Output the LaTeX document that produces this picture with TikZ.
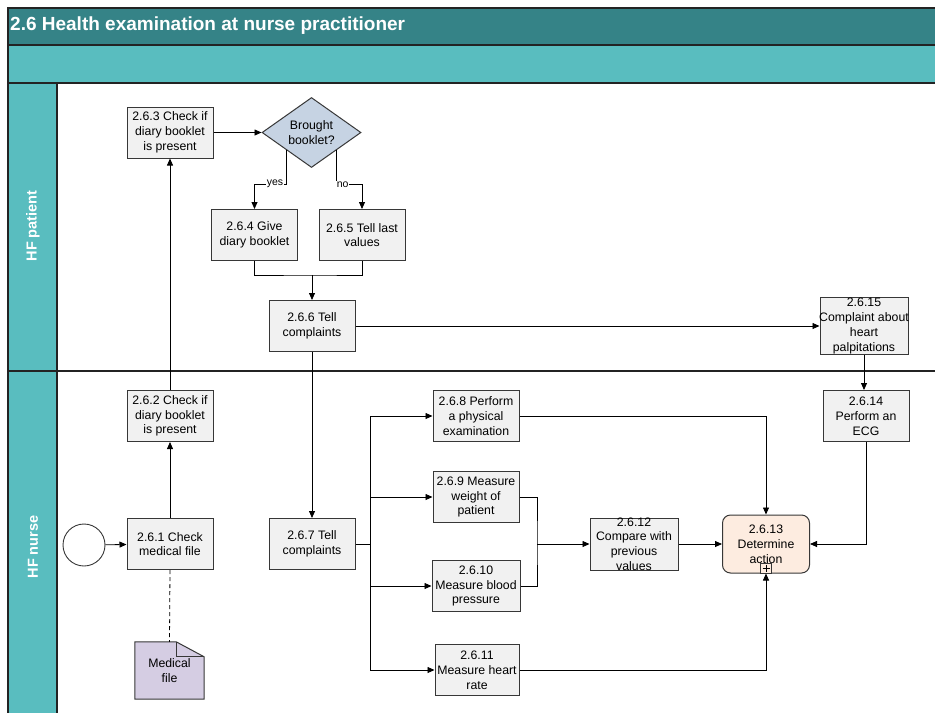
\documentclass[tikz,border=0pt]{standalone}
\usepackage{fontspec}
\setmainfont{Liberation Sans}
\usetikzlibrary{arrows.meta,shapes.geometric,backgrounds,calc}

\definecolor{titleteal}{RGB}{53,131,135}
\definecolor{laneteal}{RGB}{89,189,191}
\definecolor{taskfill}{RGB}{241,241,241}
\definecolor{gatefill}{RGB}{198,211,227}
\definecolor{subfill}{RGB}{253,236,224}
\definecolor{docfill}{RGB}{213,205,227}
\definecolor{rulecol}{RGB}{35,35,35}
\definecolor{boxline}{RGB}{55,55,55}

\begin{document}
\begin{tikzpicture}[x=1pt,y=-1pt,
  boxtext/.style={font=\fontsize{12.3}{14.8}\selectfont, align=center},
  task/.style={boxtext, draw=boxline, line width=1pt, fill=taskfill,
    minimum width=86, minimum height=51, inner sep=1pt},
  gate/.style={boxtext, diamond, draw=boxline, line width=1pt, fill=gatefill,
    aspect=1.43, minimum width=99, minimum height=70, inner sep=0pt},
  subproc/.style={task, fill=subfill, rounded corners=8pt},
  flow/.style={-{Triangle[length=7pt,width=6pt]}, line width=0.8pt},
  plain/.style={line width=0.8pt},
  assoc/.style={line width=0.8pt, dash pattern=on 4pt off 3pt},
  lanerule/.style={draw=rulecol, line width=1.4pt},
  gatelabel/.style={font=\fontsize{10.5}{12}\selectfont, fill=white, inner sep=0.5pt},
  lanelabel/.style={text=white, font=\bfseries\fontsize{14.5}{16}\selectfont, rotate=90}
]
\useasboundingbox (0,0) rectangle (935,713);

% pool and lanes
\fill[titleteal] (8,8) rectangle (935,45);
\fill[laneteal] (8,45) rectangle (935,83);
\fill[laneteal] (8,83) rectangle (57,713);
\draw[lanerule] (935,8) -- (8,8) -- (8,713);
\draw[lanerule] (8,45) -- (935,45);
\draw[lanerule] (8,83) -- (935,83);
\draw[lanerule] (57,83) -- (57,713);
\draw[lanerule] (8,371) -- (935,371);

\node[anchor=west, inner sep=0pt, text=white, font=\bfseries\fontsize{19}{22}\selectfont]
  (title) at (10,26) {2.6 Health examination at nurse practitioner};
\node[lanelabel] (lanepatient) at (33,226) {HF patient};
\node[lanelabel] (lanenurse) at (33,547) {HF nurse};

% HF patient lane
\node[task] (b263) at (170,132.5) {2.6.3 Check if\\diary booklet\\is present};
\node[gate] (dia) at (311.5,132.5) {Brought\\booklet?};
\node[task] (b264) at (254.5,235) {2.6.4 Give\\diary booklet};
\node[task] (b265) at (362,235) {2.6.5 Tell last\\values};
\node[task] (b266) at (312,326) {2.6.6 Tell\\complaints};
\node[task, minimum width=88, minimum height=57] (b2615) at (864,326) {};
\node[boxtext, inner sep=0pt] (t2615) at (b2615.center) {2.6.15\\Complaint about\\heart\\palpitations};

% HF nurse lane
\node[circle, draw=boxline, line width=0.9pt, fill=white, minimum size=42, inner sep=0pt] (start) at (84,545) {};
\node[task] (b261) at (170,544) {2.6.1 Check\\medical file};
\node[task] (b262) at (170,416) {2.6.2 Check if\\diary booklet\\is present};
\node[task] (b267) at (312,544) {2.6.7 Tell\\complaints};
\node[task] (b268) at (476,416) {2.6.8 Perform\\a physical\\examination};
\node[task] (b269) at (476,497) {2.6.9 Measure\\weight of\\patient};
\node[task, minimum width=88] (b2610) at (476,586) {2.6.10\\Measure blood\\pressure};
\node[task, minimum width=84] (b2611) at (477,670) {2.6.11\\Measure heart\\rate};
\node[task, minimum width=88, minimum height=52] (b2612) at (634,544) {};
\node[boxtext, inner sep=0pt] (t2612) at (b2612.center) {2.6.12\\Compare with\\previous\\values};
\node[subproc, minimum width=87, minimum height=58] (b2613) at (766,544) {2.6.13\\Determine\\action};
\node[draw=boxline, line width=0.8pt, fill=subfill, minimum width=11, minimum height=10, inner sep=0pt, anchor=south]
  (plus) at (b2613.south) {};
\draw[line width=0.7pt] ($(plus.center)+(-3.5,0)$) -- ($(plus.center)+(3.5,0)$)
  ($(plus.center)+(0,-3.5)$) -- ($(plus.center)+(0,3.5)$);
\node[task, minimum width=86] (b2614) at (866,416) {2.6.14\\Perform an\\ECG};

% medical file data object
\node[boxtext, minimum width=69, minimum height=57, inner sep=0pt] (mfile) at (169.5,670.5) {Medical\\file};
\begin{pgfonlayer}{background}
  \draw[fill=docfill, draw=boxline, line width=1pt]
    (mfile.south west) -- (mfile.north west) -- ($(mfile.north east)+(-28,0)$)
    -- ($(mfile.north east)+(0,15)$) -- (mfile.south east) -- cycle;
  \draw[draw=boxline, line width=1pt]
    ($(mfile.north east)+(-28,0)$) -- ($(mfile.north east)+(-28,15)$) -- ($(mfile.north east)+(0,15)$);
\end{pgfonlayer}

% junction points
\coordinate (jpat) at (312,275);
\coordinate (jfork) at (370,544);
\coordinate (jmeas) at (537,544);

% sequence flows
\draw[flow] (start) -- (b261);
\draw[flow] (b261) -- (b262);
\draw[flow] (b262) -- (b263);
\draw[flow] (b263.east) -- (dia.west);
\draw[flow] (dia.south west) -- ++(0,34) -| (b264.north)
  node[gatelabel, pos=0.18] (lyes) {yes};
\draw[flow] (dia.south east) -- ++(0,34) -| (b265.north)
  node[gatelabel, pos=0.12] (lno) {no};
\draw[plain] (b264.south) |- (jpat) -| (b265.south);
\draw[flow] (jpat) -- (b266.north);
\draw[flow] (b266.east) -- (b2615.west);
\draw[flow] (b266.south) -- (b267.north);
\draw[flow] (b2615.south) -- (b2615.south |- b2614.north);
\draw[plain] (b267.east) -- (jfork);
\draw[flow] (jfork) |- (b268.west);
\draw[flow] (jfork) |- (b269.west);
\draw[flow] (jfork) |- (b2610.west);
\draw[flow] (jfork) |- (b2611.west);
\draw[plain] (b269.east) -| (jmeas) |- (b2610.east);
\draw[flow] (jmeas) -- (b2612.west);
\draw[flow] (b2612.east) -- (b2613.west);
\draw[flow] (b268.east) -| (b2613.north);
\draw[flow] (b2611.east) -| (plus.south);
\draw[flow] (b2614.south) |- (b2613.east);

% association
\draw[assoc] (b261.south) -- (mfile.north);
\end{tikzpicture}
\end{document}
